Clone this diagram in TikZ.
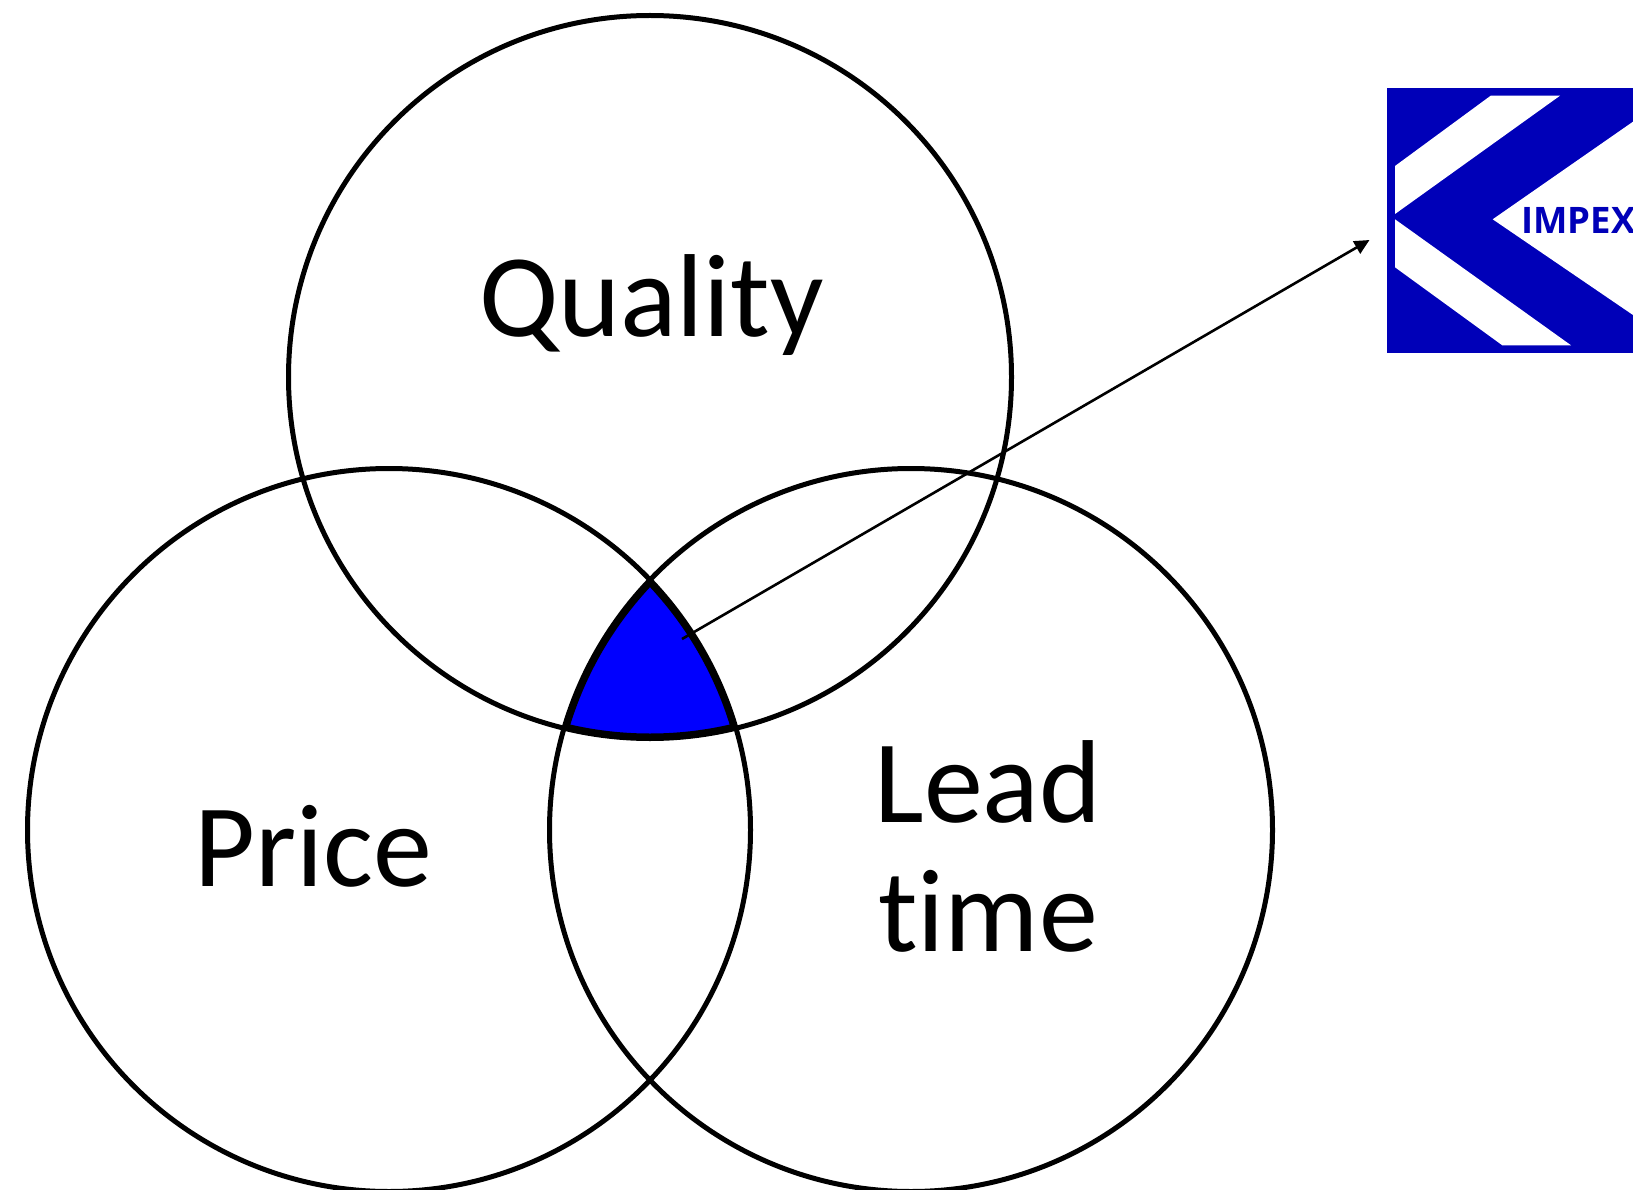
\documentclass[tikz,border=0pt]{standalone}
\usepackage{fontspec}
\setmainfont{Carlito}
\newfontfamily\logofont{Open Sans}
\usetikzlibrary{arrows.meta}
\definecolor{logoblue}{HTML}{0000B8}
\definecolor{coreblue}{HTML}{0000FF}
\tikzset{
  x=1pt,y=-1pt,
  venn/.style={circle,draw=black,line width=5pt,minimum size=723pt,inner sep=0pt},
  biglabel/.style={anchor=base,inner sep=0pt,font=\fontsize{118}{118}\selectfont},
  pointer/.style={draw=black,line width=2.6pt,-{Triangle[length=15pt,width=14pt]}},
  logotext/.style={anchor=base west,inner sep=0pt,text=logoblue,font=\logofont\fontsize{36.5}{37}\selectfont\bfseries}
}
\begin{document}
\begin{tikzpicture}
\useasboundingbox (0,0) rectangle (1633,1190);
\fill[white] (0,0) rectangle (1633,1190);
% blue core
\begin{scope}
  \clip (650,377) circle[radius=361.5pt];
  \clip (389,830) circle[radius=361.5pt];
  \clip (911,830) circle[radius=361.5pt];
  \fill[coreblue] (500,500) rectangle (800,800);
  \draw[black,line width=10pt] (650,377) circle[radius=361.5pt];
  \draw[black,line width=10pt] (389,830) circle[radius=361.5pt];
  \draw[black,line width=10pt] (911,830) circle[radius=361.5pt];
\end{scope}
% circles
\node[venn] (quality) at (650,377) {};
\node[venn] (price) at (389,830) {};
\node[venn] (lead) at (911,830) {};
% labels
\node[biglabel] (qualitytext) at (651.5,337) {Quality};
\node[biglabel] (pricetext) at (313,886) {Price};
\node[biglabel] (leadtext) at (988,822) {Lead};
\node[biglabel] (timetext) at (988,951) {t\kern0pt ime};
% logo
\fill[logoblue] (1386.7,88.3) rectangle (1633,353.3);
\fill[white] (1395,166) -- (1490.7,95.7) -- (1560,95.7) -- (1395,214) -- cycle;
\fill[white] (1395,219.3) -- (1571,345.3) -- (1502.3,345.3) -- (1395,267.3) -- cycle;
\fill[white] (1633,121.7) -- (1492.7,219.3) -- (1633,315) -- cycle;
\begin{scope}
  \clip (0,0) rectangle (1633,1190);
  \node[logotext] (impex) at (1521,234) {IMPEX};
\end{scope}
% pointer
\coordinate (pstart) at (682,639);
\coordinate (pend) at (1369.5,240);
\draw[pointer] (pstart) -- (pend);
\end{tikzpicture}
\end{document}
